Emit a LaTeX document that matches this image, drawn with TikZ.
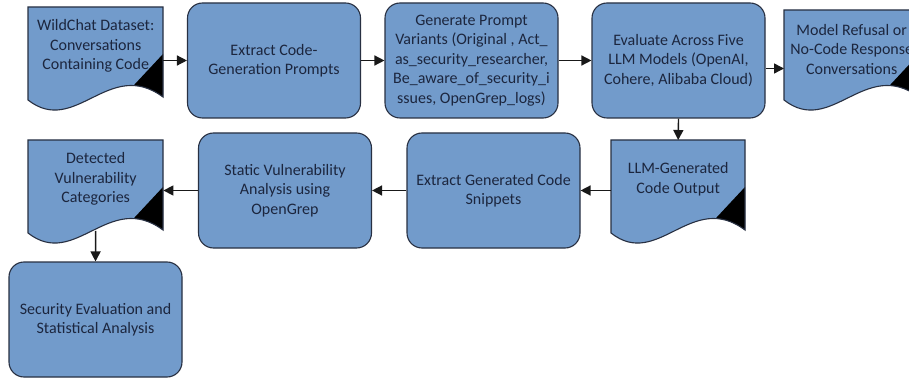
\documentclass[tikz,border=0pt]{standalone}
\usepackage{fontspec}
\setmainfont{Carlito}
\usetikzlibrary{arrows.meta}
\definecolor{boxfill}{RGB}{114,155,203}
\definecolor{boxline}{RGB}{40,48,66}
\definecolor{txt}{RGB}{28,38,62}
\tikzset{
  procbox/.style={draw=boxline, line width=1.1pt, fill=boxfill, rounded corners=15pt,
    minimum width=173pt, minimum height=115pt, align=center, text=txt,
    font=\fontsize{16}{19.5}\selectfont, inner sep=2pt},
  doctext/.style={align=center, text=txt, font=\fontsize{16}{19.5}\selectfont, inner sep=0pt},
  docfill/.style={fill=boxfill},
  docline/.style={draw=boxline, line width=1.1pt},
  arr/.style={draw=black!90, line width=1.4pt, -{Triangle[length=10pt,width=10pt]}}
}
\newcommand{\docpath}[4]{(#1,#2) -- ({#1+#3},#2) -- ({#1+#3},{#2+#4-3}) .. controls ({#1+0.6*#3},{#2+#4-43}) and ({#1+0.35*#3},{#2+#4+37}) .. (#1,{#2+#4}) -- cycle}
\newcommand{\docnode}[6]{%
  \path[docfill] \docpath{#2}{#3}{#4}{#5};
  \begin{scope}
    \clip \docpath{#2}{#3}{#4}{#5};
    \fill[black] ({#2+#4},{#3+#5-46}) -- ({#2+#4-42},{#3+#5-1}) -- ({#2+#4},{#3+#5+20}) -- cycle;
  \end{scope}
  \draw[docline] \docpath{#2}{#3}{#4}{#5};
  \node[doctext, minimum width=#4pt, minimum height=78pt, anchor=north west] (#1) at (#2,#3) {#6};
}
\begin{document}
\begin{tikzpicture}[x=1pt,y=-1pt]
\useasboundingbox (0,0) rectangle (909,379);
\clip (0,0) rectangle (909,379);
\fill[white] (0,0) rectangle (909,379);

% row 1
\docnode{d1}{28}{7}{135}{93}{WildChat Dataset:\\Conversations\\Containing Code}
\node[procbox] (b2) at (274,60.5) {Extract Code-\\Generation Prompts};
\node[procbox] (b3) at (471.5,60.5) {Generate Prompt\\Variants (Original , Act\_\\as\_security\_researcher,\\Be\_aware\_of\_security\_i\\ssues, OpenGrep\_logs)};
\node[procbox] (b4) at (678.5,60.5) {Evaluate Across Five\\LLM Models (OpenAI,\\Cohere, Alibaba Cloud)};
\docnode{d5}{784}{10}{135}{90}{Model Refusal or\\No-Code Response\\Conversations}

% row 2
\docnode{d6}{611}{140}{134}{93}{LLM-Generated\\Code Output}
\node[procbox] (b7) at (493.5,190.5) {Extract Generated Code\\Snippets};
\node[procbox] (b8) at (285,190.5) {Static Vulnerability\\Analysis using\\OpenGrep};
\docnode{d9}{28}{140}{135}{93}{Detected\\Vulnerability\\Categories}

% row 3
\node[procbox] (b10) at (95.5,319.5) {Security Evaluation and\\Statistical Analysis};

% connectors
\draw[arr] (d1.east |- b2.west) -- (b2.west);
\draw[arr] (b2.east) -- (b3.west);
\draw[arr] (b3.east) -- (b4.west);
\draw[arr] ([yshift=-8pt]b4.east) coordinate (a45) -- (a45 -| d5.west);
\draw[arr] (b4.south) -- (d6.north);
\draw[arr] (d6.west |- b7.east) -- (b7.east);
\draw[arr] (b7.west) -- (b8.east);
\draw[arr] (b8.west) -- (d9.east |- b8.west);
\draw[arr] ([yshift=-12.5pt]d9.south) -- (b10.north);
\end{tikzpicture}
\end{document}
